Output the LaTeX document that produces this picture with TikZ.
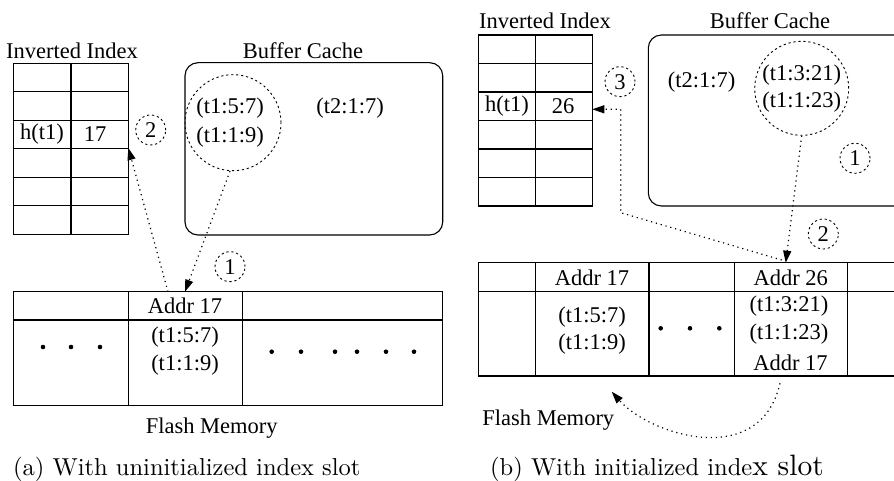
\documentclass[tikz,border=0pt]{standalone}
\usepackage{fontspec}
\setmainfont{Liberation Serif}
\newfontfamily\capfont{lmroman10-regular.otf}
\usetikzlibrary{arrows.meta}
\tikzset{
  tbl/.style={draw=black, line width=1.1pt},
  txt/.style={font=\fontsize{22.5}{26}\selectfont, inner sep=0pt},
  dotline/.style={line width=1.2pt, dash pattern=on 1.2pt off 3.8pt},
  dcirc/.style={draw, circle, line width=0.9pt, dash pattern=on 2.2pt off 2.8pt, inner sep=0pt},
  numc/.style={dcirc, minimum size=30pt, font=\fontsize{22.5}{26}\selectfont},
  tipa/.style={-{Triangle[length=12pt,width=8pt]}},
  dotmark/.style={fill, circle, inner sep=0pt, minimum size=4.6pt},
  capt/.style={anchor=base west, inner sep=0pt, font=\capfont\fontsize{24.5}{28}\selectfont},
}
\begin{document}
\begin{tikzpicture}[x=1pt,y=-1pt]
\useasboundingbox (0,0) rectangle (894,481);
\clip (0,0) rectangle (894,481);

% ================= LEFT PANEL (a) =================
\node[txt] (iiA) at (72,51) {Inverted Index};
\node[txt] (bcA) at (303,51) {Buffer Cache};
% inverted index table
\draw[tbl] (13.3,63.3) rectangle (128.3,234.3);
\draw[tbl] (71,63.3) -- (71,234.3);
\foreach \y in {91.8,120.3,148.8,177.3,205.8} \draw[tbl] (13.3,\y) -- (128.3,\y);
\node[txt] (hA) at (42,134.5) {h(t1)};
\node[txt] (vA) at (95,134.5) {17};
\coordinate (idxA) at (128.3,148);
\node[numc] (n2A) at (150.7,130) {2};
% buffer cache
\draw[tbl, rounded corners=13pt] (185,62.7) rectangle (442.7,235);
\node[dcirc, minimum size=96pt] (grpA) at (233,122.7) {};
\node[txt] (a1) at (230,108) {(t1:5:7)};
\node[txt] (a2) at (230,137) {(t1:1:9)};
\node[txt] (a3) at (350,108) {(t2:1:7)};
% flash memory
\draw[tbl] (13.3,291.7) rectangle (442.7,405.7);
\draw[tbl] (13.3,320) -- (442.7,320);
\draw[tbl] (128.3,291.7) -- (128.3,405.7);
\draw[tbl] (242.3,291.7) -- (242.3,405.7);
\node[txt] (addrA) at (185,306) {Addr 17};
\node[txt] (fa1) at (185,336.7) {(t1:5:7)};
\node[txt] (fa2) at (185,365) {(t1:1:9)};
\foreach \x [count=\i] in {43,71,100} \node[dotmark] (dl\i) at (\x,347) {};
\foreach \x [count=\i] in {271.7,301,335,357,386,414} \node[dotmark] (dr\i) at (\x,351.7) {};
\node[txt] (fmA) at (211.7,428) {Flash Memory};
\coordinate (flA1) at (185,291.7);
\coordinate (flA2) at (168,291.7);
\node[numc] (n1A) at (230,266.7) {1};
% connectors
\draw[dotline, tipa] (grpA.south) ++(-3,0) coordinate (gA) -- (flA1);
\draw[dotline, tipa] (flA2) -- (idxA);
\node[capt] (capA) at (13,475) {(a) With uninitialized index slot};

% ================= RIGHT PANEL (b) =================
\node[txt] (iiB) at (545,21) {Inverted Index};
\node[txt] (bcB) at (770,21) {Buffer Cache};
\draw[tbl] (478.3,35) rectangle (592.3,206);
\draw[tbl] (535.7,35) -- (535.7,206);
\foreach \y in {63.5,92,120.5,149,177.5} \draw[tbl] (478.3,\y) -- (592.3,\y);
\node[txt] (hB) at (507,106.5) {h(t1)};
\node[txt] (vB) at (563,106.5) {26};
\coordinate (idxB) at (592.3,109.3);
\node[numc] (n3B) at (620,81.7) {3};
% buffer cache
\draw[tbl, rounded corners=13pt] (648.3,35) rectangle (910,206);
\node[txt] (b3) at (701.7,81.7) {(t2:1:7)};
\node[dcirc, minimum size=94pt] (grpB) at (801.7,88.3) {};
\node[txt] (b1) at (801.7,75) {(t1:3:21)};
\node[txt] (b2) at (801.7,101.7) {(t1:1:23)};
\node[numc] (n1B) at (855,158.3) {1};
\node[numc] (n2B) at (823.3,234) {2};
% flash memory
\draw[tbl] (910,262.7) -- (478.3,262.7) -- (478.3,376) -- (910,376);
\draw[tbl] (478.3,291.7) -- (910,291.7);
\foreach \x in {535.7,649,734.3,847.3} \draw[tbl] (\x,262.7) -- (\x,376);
\node[txt] (addrB1) at (592,277.5) {Addr 17};
\node[txt] (addrB2) at (790.8,277.5) {Addr 26};
\node[txt] (fb1) at (592,317.3) {(t1:5:7)};
\node[txt] (fb2) at (592,344) {(t1:1:9)};
\foreach \x [count=\i] in {660.7,690,719.3} \node[dotmark] (db\i) at (\x,328.3) {};
\node[txt] (fb3) at (789,306) {(t1:3:21)};
\node[txt] (fb4) at (789,334.3) {(t1:1:23)};
\node[txt] (fb5) at (790.5,362.7) {Addr 17};
\node[txt] (fmB) at (548.3,420) {Flash Memory};
\coordinate (flB1) at (785.7,262.7);
\coordinate (flB2) at (781.7,260);
\coordinate (bendB1) at (620.7,212.7);
\coordinate (bendB2) at (620.7,109.3);
\coordinate (curS) at (780,383.3);
\coordinate (curE) at (611.7,391.7);
% connectors
\draw[dotline, tipa] (grpB.south) -- (flB1);
\draw[dotline, tipa] (flB2) -- (bendB1) -- (bendB2) -- (idxB);
\draw[dotline, tipa] (curS) .. controls (760,470) and (650,435) .. (curE);
\node[capt] (capB) at (490,475) {(b) With initialized inde{\fontsize{29.5}{32}\selectfont x slot}};
\end{tikzpicture}
\end{document}
